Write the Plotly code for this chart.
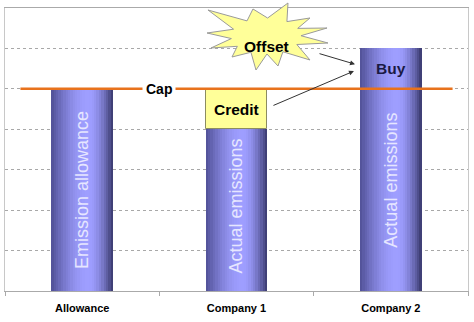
import math
import plotly.graph_objects as go

# ---------------- data ----------------
categories = ["Allowance", "Company 1", "Company 2"]
emissions = [5, 4, 6]          # allowance, actual emissions company 1, company 2
cap = 5
bar_labels = ["Emission allowance", "Actual emissions", "Actual emissions"]
bar_label_y = [2.5, 2.1, 2.75]
credit_value = cap - emissions[1]

# ---------------- style ----------------
FONT = "Liberation Sans, Arial, sans-serif"
W, H = 474, 322
ML, MR, MT, MB = 5, 6, 8, 31
PW, PH = W - ML - MR, H - MT - MB
BAR_W = 0.4
N_STRIPS = 26
LEFT_C = (80, 80, 150)
HI_C = (158, 158, 255)
RIGHT_C = (56, 56, 108)
HI_POS = 0.6


def mix(a, b, t):
    return "rgb(%d,%d,%d)" % tuple(round(a[i] + (b[i] - a[i]) * t) for i in range(3))


def strip_color(u):
    if u < HI_POS:
        t = math.sin((u / HI_POS) * math.pi / 2)
        return mix(LEFT_C, HI_C, t)
    t = math.sin(((1 - u) / (1 - HI_POS)) * math.pi / 2)
    return mix(RIGHT_C, HI_C, t)


fig = go.Figure()

sw = BAR_W / N_STRIPS
for j in range(N_STRIPS):
    u = (j + 0.5) / N_STRIPS
    w = sw * (1.6 if j < N_STRIPS - 1 else 1.0)
    fig.add_trace(go.Bar(
        x=categories, y=emissions,
        offset=-BAR_W / 2 + j * sw, width=w,
        marker=dict(color=strip_color(u), line=dict(width=0)),
        hoverinfo="skip", showlegend=False,
    ))

# credit box
fig.add_trace(go.Bar(
    x=[categories[1]], y=[credit_value], base=[emissions[1]],
    offset=-BAR_W / 2, width=BAR_W,
    marker=dict(color="#FFFF99", line=dict(color="#8c8c60", width=1)),
    hoverinfo="skip", showlegend=False,
))

# cap line
fig.add_shape(type="line", xref="x", yref="y", x0=-0.4, x1=2.4, y0=cap, y1=cap,
              line=dict(color="#E8721C", width=2.5), layer="above")

# starburst (decoration) in pixel space -> paper
cx, cy = 266, 36
tips = [(-58, -26), (-13, -27), (22, -33), (44, -18), (61, -8), (62, 7),
        (44, 24), (12, 30), (-10, 34), (-34, 21), (-55, 12), (-59, -3)]
pts = []
n = len(tips)
for i in range(n):
    a = tips[i]
    b = tips[(i + 1) % n]
    pts.append(a)
    ang1 = math.atan2(a[1] / 33, a[0] / 60)
    ang2 = math.atan2(b[1] / 33, b[0] / 60)
    d = ang2 - ang1
    while d > math.pi:
        d -= 2 * math.pi
    while d < -math.pi:
        d += 2 * math.pi
    am = ang1 + d / 2
    pts.append((35 * math.cos(am), 18 * math.sin(am)))


def to_paper(px, py):
    return (px - ML) / PW, (MT + PH - py) / PH


path = ""
for k, (dx, dy) in enumerate(pts):
    X, Y = to_paper(cx + dx, cy + dy)
    path += ("M" if k == 0 else "L") + "%.4f,%.4f " % (X, Y)
path += "Z"
fig.add_shape(type="path", xref="paper", yref="paper", path=path,
              fillcolor="#FFFF99", line=dict(color="#9a9a9a", width=1), layer="above")

ox, oy = to_paper(cx, cy)
annotations = [
    dict(x=0.5, y=cap, xref="x", yref="y", text="<b>Cap</b>", showarrow=False,
         bgcolor="white", borderpad=3, font=dict(family=FONT, size=14, color="black")),
    dict(x=1, y=emissions[1] + credit_value / 2, xref="x", yref="y", text="<b>Credit</b>",
         showarrow=False, font=dict(family=FONT, size=15.5, color="black")),
    dict(x=2, y=(cap + emissions[2]) / 2, xref="x", yref="y", text="<b>Buy</b>",
         showarrow=False, font=dict(family=FONT, size=15.5, color="#1a1a44")),
    dict(x=ox, y=oy, xref="paper", yref="paper", text="<b>Offset</b>",
         showarrow=False, font=dict(family=FONT, size=15.5, color="black")),
    # arrows
    dict(x=1.768, y=5.61, xref="x", yref="y", ax=-37, ay=-11, text="", showarrow=True,
         arrowhead=2, arrowsize=1, arrowwidth=1, arrowcolor="#333333", standoff=0),
    dict(x=1.761, y=5.44, xref="x", yref="y", ax=-82, ay=35, text="", showarrow=True,
         arrowhead=2, arrowsize=1, arrowwidth=1, arrowcolor="#333333", standoff=0),
]
for i, (lab, ly) in enumerate(zip(bar_labels, bar_label_y)):
    annotations.append(dict(x=i, y=ly, xref="x", yref="y", text=lab, textangle=-90,
                            showarrow=False, font=dict(family=FONT, size=18, color="#E6E6FF")))

fig.update_layout(
    width=W, height=H,
    margin=dict(l=ML, r=MR, t=MT, b=MB, autoexpand=False),
    paper_bgcolor="white", plot_bgcolor="white",
    barmode="overlay", bargap=0,
    showlegend=False,
    annotations=annotations,
    xaxis=dict(type="category", range=[-0.5, 2.5], showgrid=False, zeroline=False,
               showline=True, linecolor="#aaaaaa", linewidth=1, mirror=True,
               ticks="outside", tickson="boundaries", ticklen=4, tickcolor="#aaaaaa",
               ticklabelstandoff=7,
               tickfont=dict(family=FONT, size=11, color="black", weight="bold"),
               fixedrange=True),
    yaxis=dict(range=[0, 7], dtick=1, showgrid=True, gridcolor="#a8a8a8", griddash="dot",
               gridwidth=1, zeroline=False, showticklabels=False,
               showline=True, linecolor="#c8c8c8", linewidth=1, mirror=True,
               fixedrange=True),
)

fig.write_html("out.html")
